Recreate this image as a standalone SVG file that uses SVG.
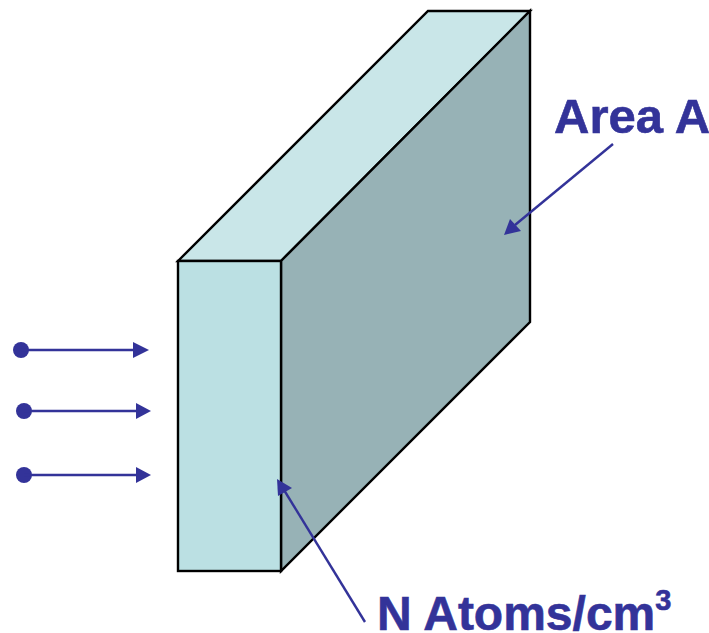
<svg xmlns="http://www.w3.org/2000/svg" width="709" height="633" viewBox="0 0 709 633">
<defs>
<style>
.edge{stroke:#000;stroke-width:2.4;stroke-linejoin:miter}
.ptr{stroke:#333399;fill:none;stroke-width:2.4}
.head{fill:#333399}
.dot{fill:#333399}
.label{font-family:"Liberation Sans",Arial,sans-serif;font-weight:700;fill:#333399;stroke:#333399;stroke-width:0.6}
</style>
</defs>
<rect width="709" height="633" fill="#fff"/>
<g id="slab">
<polygon id="top-face" class="edge" fill="#c9e6e8" points="178,261 428,11 530,11 281,261"/>
<polygon id="side-face" class="edge" fill="#97b2b6" points="281,261 530,11 530,322 281,571"/>
<rect id="front-face" class="edge" fill="#bbe0e3" x="178" y="261" width="103" height="310"/>
</g>
<g id="connectors">
<circle class="dot" cx="21" cy="350" r="8"/>
<line class="ptr" x1="21" y1="350" x2="134" y2="350"/>
<polygon class="head" points="133,342 149,350 133,358"/>
<circle class="dot" cx="24" cy="411" r="8"/>
<line class="ptr" x1="24" y1="411" x2="136" y2="411"/>
<polygon class="head" points="136,403 151,411 136,419"/>
<circle class="dot" cx="24" cy="475" r="8"/>
<line class="ptr" x1="24" y1="475" x2="136" y2="475"/>
<polygon class="head" points="136,467 151,475 136,483"/>
<line class="ptr" x1="613" y1="144" x2="515" y2="225"/>
<polygon class="head" points="504,235 510,219 521,231"/>
<line class="ptr" x1="365" y1="622" x2="284" y2="490"/>
<polygon class="head" points="277,479 292,488 278,496"/>
</g>
<g id="area-label"><text class="label" x="554" y="133" font-size="49">Area A</text></g>
<g id="atoms-label"><text class="label" x="377" y="630" font-size="48">N Atoms/cm<tspan font-size="29" dy="-20">3</tspan></text></g>
</svg>
